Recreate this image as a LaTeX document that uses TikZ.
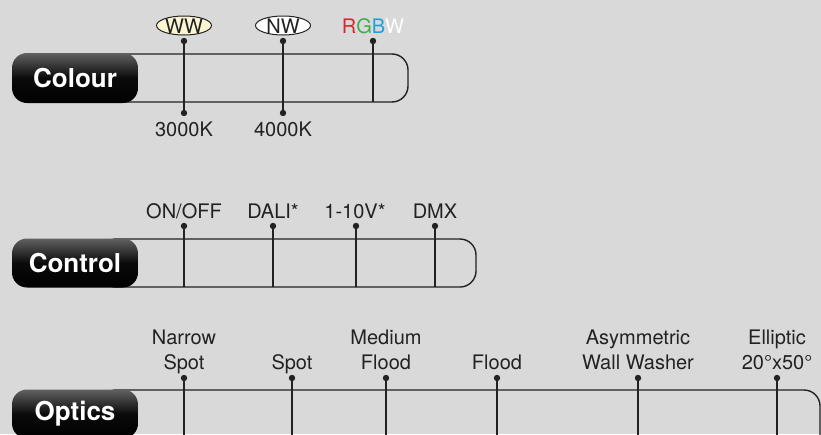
\documentclass[tikz,border=0pt]{standalone}
\usepackage{fontspec}
\setmainfont{TeX Gyre Heros}
\usetikzlibrary{shapes.geometric}
\definecolor{bg}{HTML}{D9D9D9}
\definecolor{ink}{HTML}{222222}
\definecolor{wwfill}{HTML}{FBF5D2}
\definecolor{rr}{HTML}{D7282F}
\definecolor{gg}{HTML}{3FAE49}
\definecolor{bb}{HTML}{1BA1DB}
\tikzset{
  bar/.style={draw=ink, line width=1.4pt, rounded corners=16pt},
  tag/.style={rounded corners=15pt, top color=black!62, bottom color=black, middle color=black!96, minimum width=126pt, text=white, font=\fontsize{26}{29}\selectfont\bfseries, inner sep=0pt},
  txt/.style={text=ink, font=\fontsize{20}{24}\selectfont, anchor=base, inner sep=0pt},
  pill/.style={ellipse, draw=ink, line width=1pt, minimum width=55pt, minimum height=19pt, inner sep=0pt},
  stem/.style={draw=ink, line width=1.4pt},
  dot/.style={fill=ink}
}
\begin{document}
\begin{tikzpicture}[x=1pt,y=-1pt]
\useasboundingbox (0,0) rectangle (821,434);
\clip (0,0) rectangle (821,434);
\fill[bg] (0,0) rectangle (821,434);

% ---------- Colour ----------
\draw[bar] (100,54) rectangle (408,102);
\node[tag, minimum height=50pt] (colour) at (75,78) {Colour};
\node[pill, fill=wwfill] (wwp) at (184,25.5) {};
\node[txt] (ww) at (184,33) {WW};
\node[pill, fill=white] (nwp) at (283,25.5) {};
\node[txt] (nw) at (283,33) {NW};
\node[txt] (rgbw) at (373,33) {\textcolor{rr}{R}\textcolor{gg}{G}\textcolor{bb}{B}\textcolor{white}{W}};
\node[txt] (k3) at (184,136) {3000K};
\node[txt] (k4) at (283,136) {4000K};
\coordinate (ww-t) at (184,41); \coordinate (ww-b) at (184,113);
\coordinate (nw-t) at (283,41); \coordinate (nw-b) at (283,113);
\coordinate (rg-t) at (373,41); \coordinate (rg-b) at (373,102);
\draw[stem] (ww-t) -- (ww-b);
\draw[stem] (nw-t) -- (nw-b);
\draw[stem] (rg-t) -- (rg-b);
\foreach \c in {ww-t,ww-b,nw-t,nw-b,rg-t} \fill[dot] (\c) circle (3.2);

% ---------- Control ----------
\draw[bar] (100,239) rectangle (476,287);
\node[tag, minimum height=49pt] (control) at (75,263) {Control};
\node[txt] (onoff) at (184,218) {ON/OFF};
\node[txt] (dali) at (273,218) {DALI*};
\node[txt] (v110) at (355,218) {1-10V*};
\node[txt] (dmx) at (435,218) {DMX};
\foreach \n/\x in {c1/184,c2/273,c3/356,c4/435}{
  \coordinate (\n-t) at (\x,226); \coordinate (\n-b) at (\x,287);
  \draw[stem] (\n-t) -- (\n-b);
  \fill[dot] (\n-t) circle (3.2);
}

% ---------- Optics ----------
\draw[bar] (100,390) rectangle (820,470);
\node[tag, minimum height=49pt] (optics) at (75,414) {Optics};
\node[txt] (o1a) at (184,344) {Narrow};
\node[txt] (o1b) at (184,369) {Spot};
\node[txt] (o2) at (292,369) {Spot};
\node[txt] (o3a) at (386,344) {Medium};
\node[txt] (o3b) at (386,369) {Flood};
\node[txt] (o4) at (497,369) {Flood};
\node[txt] (o5a) at (638,344) {Asymmetric};
\node[txt] (o5b) at (638,369) {Wall Washer};
\node[txt] (o6a) at (777,344) {Elliptic};
\node[txt] (o6b) at (777,369) {20°x50°};
\foreach \n/\x in {p1/184,p2/292,p3/386,p4/497,p5/638,p6/777}{
  \coordinate (\n-t) at (\x,378); \coordinate (\n-b) at (\x,440);
  \draw[stem] (\n-t) -- (\n-b);
  \fill[dot] (\n-t) circle (3.2);
}
\end{tikzpicture}
\end{document}
